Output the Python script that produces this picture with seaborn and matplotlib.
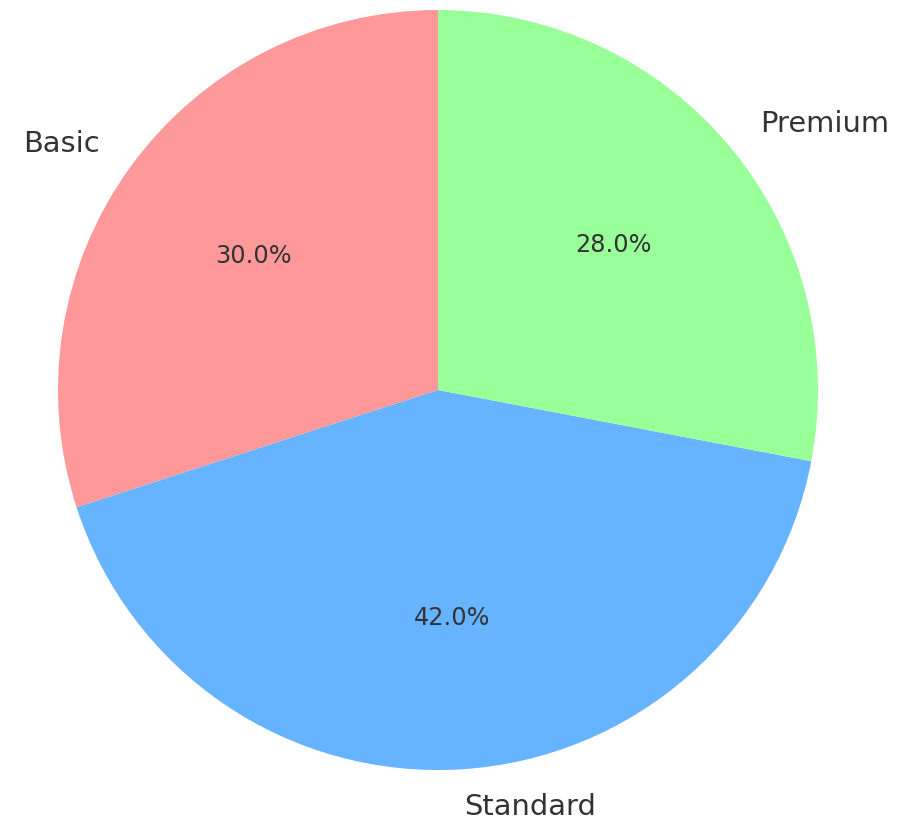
import matplotlib
matplotlib.use("Agg")
import matplotlib.pyplot as plt
import seaborn as sns

sns.set_theme(style="white")
plt.rcParams['font.family'] = ['DejaVu Sans']

plans = ["Basic", "Standard", "Premium"]
shares = [30.0, 42.0, 28.0]
colors = ["#ff9999", "#66b3ff", "#99ff99"]

W, H = 901, 817
fig = plt.figure(figsize=(W / 100, H / 100), dpi=100)
ax = fig.add_axes([0, 0, 1, 1])

cx, cy, r = 438, 390, 380
wedges, texts, autotexts = ax.pie(
    shares,
    labels=plans,
    colors=colors,
    autopct="%1.1f%%",
    startangle=90,
    counterclock=True,
    labeldistance=1.1,
    pctdistance=0.6,
    wedgeprops={"linewidth": 0},
    textprops={"fontsize": 20.8, "color": "#333333"},
)
for t in autotexts:
    t.set_fontsize(17.3)
    t.set_color("#333333")

ax.set_xlim(-cx / r, (W - cx) / r)
ax.set_ylim(-(H - cy) / r, cy / r)
ax.set_aspect("auto")
ax.axis("off")

fig.savefig("out.png", dpi=100)
